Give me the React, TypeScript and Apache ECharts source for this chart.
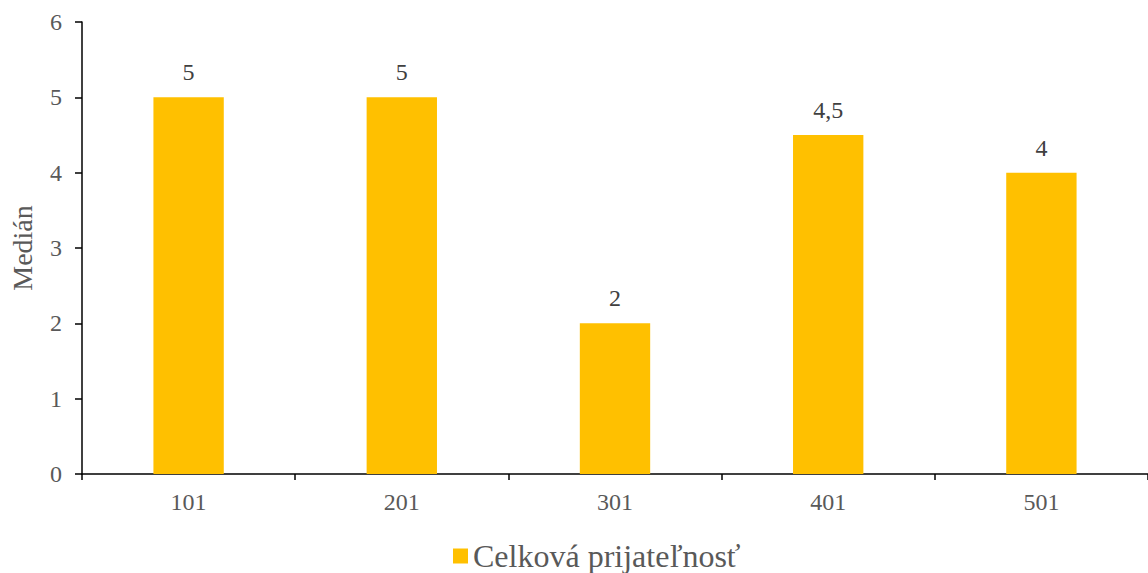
import React, { useEffect, useRef } from "react";
import * as echarts from "echarts";

const categories = ["101", "201", "301", "401", "501"];
const medians = [5, 5, 2, 4.5, 4];
const seriesName = "Celková prijateľnosť";
const axisTitle = "Medián";

const FONT = "Liberation Serif";

export default function App() {
  const ref = useRef<HTMLDivElement>(null);

  useEffect(() => {
    if (!ref.current) return;
    const chart = echarts.init(ref.current, undefined, { renderer: "svg" });
    chart.setOption({
      animation: false,
      textStyle: { fontFamily: FONT },
      grid: { left: 80, top: 22, width: 1073, height: 452, containLabel: false },
      legend: {
        data: [seriesName],
        left: 448,
        top: 533,
        itemWidth: 15,
        itemHeight: 15,
        itemGap: 7,
        icon: "rect",
        textStyle: { fontFamily: FONT, fontSize: 32, color: "#595959", lineHeight: 36 },
      },
      xAxis: {
        type: "category",
        data: categories,
        axisLine: { lineStyle: { color: "#000", width: 1.5 } },
        axisTick: { show: true, length: 6, lineStyle: { color: "#000", width: 1.5 } },
        axisLabel: { fontFamily: FONT, fontSize: 24, color: "#595959", margin: 16 },
      },
      yAxis: {
        type: "value",
        min: 0,
        max: 6,
        interval: 1,
        name: axisTitle,
        nameLocation: "middle",
        nameGap: 46,
        nameTextStyle: { fontFamily: FONT, fontSize: 28, color: "#595959" },
        splitLine: { show: false },
        axisLine: { show: true, lineStyle: { color: "#000", width: 1.5 } },
        axisTick: { show: true, length: 7, lineStyle: { color: "#000", width: 1.5 } },
        axisLabel: { fontFamily: FONT, fontSize: 24, color: "#595959", margin: 20 },
      },
      series: [
        {
          name: seriesName,
          type: "bar",
          data: medians,
          barWidth: "33%",
          itemStyle: { color: "#FFC000" },
          label: {
            show: true,
            position: "top",
            distance: 13,
            fontFamily: FONT,
            fontSize: 24,
            color: "#404040",
            formatter: (p: any) => String(p.value).replace(".", ","),
          },
        },
      ],
    });
    return () => chart.dispose();
  }, []);

  return <div ref={ref} style={{ width: 1148, height: 573, position: "absolute", left: 0, top: 0 }} />;
}
